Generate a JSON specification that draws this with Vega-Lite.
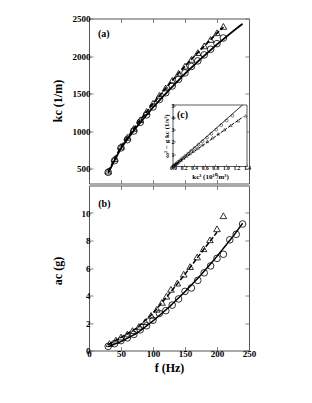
{
 "$schema": "https://vega.github.io/schema/vega-lite/v6.json",
 "background": "white",
 "padding": {"left": 50, "top": 13.5, "right": 5, "bottom": 5},
 "spacing": 0,
 "config": {
  "font": "Liberation Serif",
  "view": {"stroke": "#555", "strokeWidth": 1},
  "axis": {"grid": false, "domain": false, "tickSize": -4, "tickColor": "#666", "tickWidth": 0.8, "labelFont": "Liberation Serif", "labelFontSize": 9, "labelFontWeight": "bold", "labelColor": "#000", "labelPadding": 3, "labelFlush": false, "labelOverlap": false, "titleFont": "Liberation Serif", "titleFontSize": 12, "titleFontWeight": "bold", "titleColor": "#000"}
 },
 "datasets": {
  "kpts": [
   {"f":30,"k":450,"series":"circle"},{"f":40,"k":605,"series":"circle"},{"f":50,"k":775,"series":"circle"},{"f":60,"k":885,"series":"circle"},{"f":70,"k":1000,"series":"circle"},{"f":80,"k":1115,"series":"circle"},{"f":90,"k":1215,"series":"circle"},{"f":100,"k":1320,"series":"circle"},{"f":110,"k":1420,"series":"circle"},{"f":120,"k":1510,"series":"circle"},{"f":130,"k":1600,"series":"circle"},{"f":140,"k":1690,"series":"circle"},{"f":150,"k":1775,"series":"circle"},{"f":160,"k":1860,"series":"circle"},{"f":170,"k":1935,"series":"circle"},{"f":180,"k":2015,"series":"circle"},{"f":190,"k":2090,"series":"circle"},{"f":200,"k":2165,"series":"circle"},{"f":210,"k":2240,"series":"circle"},
   {"f":30,"k":465,"series":"triangle"},{"f":40,"k":630,"series":"triangle"},{"f":50,"k":795,"series":"triangle"},{"f":60,"k":915,"series":"triangle"},{"f":70,"k":1035,"series":"triangle"},{"f":80,"k":1150,"series":"triangle"},{"f":90,"k":1260,"series":"triangle"},{"f":100,"k":1370,"series":"triangle"},{"f":110,"k":1475,"series":"triangle"},{"f":120,"k":1575,"series":"triangle"},{"f":130,"k":1675,"series":"triangle"},{"f":140,"k":1770,"series":"triangle"},{"f":150,"k":1865,"series":"triangle"},{"f":160,"k":1955,"series":"triangle"},{"f":170,"k":2045,"series":"triangle"},{"f":180,"k":2135,"series":"triangle"},{"f":190,"k":2220,"series":"triangle"},{"f":200,"k":2310,"series":"triangle"},{"f":210,"k":2395,"series":"triangle"}
  ],
  "kfit": [
   {"f":30,"k":440,"series":"solid"},{"f":40,"k":610,"series":"solid"},{"f":50,"k":770,"series":"solid"},{"f":60,"k":890,"series":"solid"},{"f":75,"k":1060,"series":"solid"},{"f":100,"k":1315,"series":"solid"},{"f":125,"k":1545,"series":"solid"},{"f":150,"k":1765,"series":"solid"},{"f":175,"k":1965,"series":"solid"},{"f":200,"k":2155,"series":"solid"},{"f":225,"k":2330,"series":"solid"},{"f":240,"k":2430,"series":"solid"},
   {"f":30,"k":455,"series":"dashed"},{"f":40,"k":625,"series":"dashed"},{"f":50,"k":790,"series":"dashed"},{"f":60,"k":912,"series":"dashed"},{"f":75,"k":1090,"series":"dashed"},{"f":100,"k":1365,"series":"dashed"},{"f":125,"k":1625,"series":"dashed"},{"f":150,"k":1865,"series":"dashed"},{"f":175,"k":2090,"series":"dashed"},{"f":200,"k":2305,"series":"dashed"},{"f":210,"k":2385,"series":"dashed"}
  ],
  "apts": [
   {"f":30,"a":0.30,"series":"circle"},{"f":40,"a":0.50,"series":"circle"},{"f":50,"a":0.72,"series":"circle"},{"f":60,"a":0.92,"series":"circle"},{"f":70,"a":1.17,"series":"circle"},{"f":80,"a":1.50,"series":"circle"},{"f":90,"a":1.80,"series":"circle"},{"f":100,"a":2.20,"series":"circle"},{"f":110,"a":2.70,"series":"circle"},{"f":120,"a":2.90,"series":"circle"},{"f":130,"a":3.30,"series":"circle"},{"f":140,"a":3.75,"series":"circle"},{"f":150,"a":4.30,"series":"circle"},{"f":160,"a":4.55,"series":"circle"},{"f":170,"a":5.10,"series":"circle"},{"f":180,"a":5.65,"series":"circle"},{"f":190,"a":6.15,"series":"circle"},{"f":200,"a":6.70,"series":"circle"},{"f":210,"a":7.00,"series":"circle"},{"f":220,"a":8.05,"series":"circle"},{"f":230,"a":8.45,"series":"circle"},{"f":240,"a":9.20,"series":"circle"},
   {"f":32,"a":0.50,"series":"triangle"},{"f":42,"a":0.75,"series":"triangle"},{"f":50,"a":0.98,"series":"triangle"},{"f":60,"a":1.20,"series":"triangle"},{"f":68,"a":1.45,"series":"triangle"},{"f":78,"a":1.75,"series":"triangle"},{"f":88,"a":2.10,"series":"triangle"},{"f":97,"a":2.55,"series":"triangle"},{"f":106,"a":3.00,"series":"triangle"},{"f":114,"a":3.50,"series":"triangle"},{"f":121,"a":3.95,"series":"triangle"},{"f":128,"a":4.45,"series":"triangle"},{"f":138,"a":4.90,"series":"triangle"},{"f":148,"a":5.55,"series":"triangle"},{"f":158,"a":6.10,"series":"triangle"},{"f":169,"a":6.80,"series":"triangle"},{"f":179,"a":7.40,"series":"triangle"},{"f":189,"a":8.05,"series":"triangle"},{"f":200,"a":8.85,"series":"triangle"},{"f":210,"a":9.80,"series":"triangle"}
  ],
  "afit": [
   {"f":30,"a":0.28,"series":"solid"},{"f":50,"a":0.65,"series":"solid"},{"f":75,"a":1.26,"series":"solid"},{"f":100,"a":2.15,"series":"solid"},{"f":125,"a":3.15,"series":"solid"},{"f":150,"a":4.28,"series":"solid"},{"f":175,"a":5.50,"series":"solid"},{"f":200,"a":6.85,"series":"solid"},{"f":225,"a":8.30,"series":"solid"},{"f":240,"a":9.25,"series":"solid"},
   {"f":30,"a":0.42,"series":"dashed"},{"f":50,"a":0.95,"series":"dashed"},{"f":75,"a":1.65,"series":"dashed"},{"f":100,"a":2.70,"series":"dashed"},{"f":125,"a":4.10,"series":"dashed"},{"f":150,"a":5.55,"series":"dashed"},{"f":175,"a":7.10,"series":"dashed"},{"f":200,"a":8.60,"series":"dashed"}
  ],
  "inpts": [
   {"x":0.009,"y":0.045,"series":"circle"},{"x":0.022,"y":0.099,"series":"circle"},{"x":0.047,"y":0.171,"series":"circle"},{"x":0.069,"y":0.268,"series":"circle"},{"x":0.100,"y":0.386,"series":"circle"},{"x":0.139,"y":0.522,"series":"circle"},{"x":0.179,"y":0.680,"series":"circle"},{"x":0.230,"y":0.857,"series":"circle"},{"x":0.286,"y":1.055,"series":"circle"},{"x":0.344,"y":1.273,"series":"circle"},{"x":0.410,"y":1.511,"series":"circle"},{"x":0.483,"y":1.769,"series":"circle"},{"x":0.559,"y":2.047,"series":"circle"},{"x":0.643,"y":2.344,"series":"circle"},{"x":0.725,"y":2.662,"series":"circle"},{"x":0.818,"y":3.000,"series":"circle"},{"x":0.913,"y":3.358,"series":"circle"},{"x":1.015,"y":3.735,"series":"circle"},{"x":1.124,"y":4.133,"series":"circle"},
   {"x":0.010,"y":0.043,"series":"triangle"},{"x":0.025,"y":0.096,"series":"triangle"},{"x":0.050,"y":0.169,"series":"triangle"},{"x":0.077,"y":0.266,"series":"triangle"},{"x":0.111,"y":0.382,"series":"triangle"},{"x":0.152,"y":0.519,"series":"triangle"},{"x":0.200,"y":0.676,"series":"triangle"},{"x":0.257,"y":0.853,"series":"triangle"},{"x":0.321,"y":1.050,"series":"triangle"},{"x":0.391,"y":1.267,"series":"triangle"},{"x":0.470,"y":1.504,"series":"triangle"},{"x":0.555,"y":1.761,"series":"triangle"},{"x":0.649,"y":2.038,"series":"triangle"},{"x":0.747,"y":2.335,"series":"triangle"},{"x":0.855,"y":2.652,"series":"triangle"},{"x":0.973,"y":2.988,"series":"triangle"},{"x":1.094,"y":3.345,"series":"triangle"},{"x":1.233,"y":3.721,"series":"triangle"},{"x":1.374,"y":4.118,"series":"triangle"}
  ],
  "infit": [
   {"x":0,"y":0,"series":"solid"},{"x":1.315,"y":5.0,"series":"solid"},
   {"x":0,"y":0,"series":"dashed"},{"x":1.33,"y":4.05,"series":"dashed"}
  ]
 },
 "vconcat": [
  {
   "width": 160, "height": 165,
   "layer": [
    {
     "layer": [
      {
       "data": {"name": "kpts"},
       "mark": {"type": "point", "filled": false, "stroke": "#000", "strokeWidth": 0.8, "size": 44, "opacity": 1},
       "encoding": {
        "x": {"field": "f", "type": "quantitative", "scale": {"domain": [0, 250], "nice": false}, "axis": {"orient": "bottom", "values": [0,50,100,150,200,250], "labels": false, "title": null}},
        "y": {"field": "k", "type": "quantitative", "scale": {"domain": [300, 2500], "zero": false, "nice": false}, "axis": {"orient": "left", "values": [500,1000,1500,2000,2500], "format": "d", "title": "kc (1/m)", "titleX": -25, "titleY": 82}},
        "shape": {"field": "series", "type": "nominal", "scale": {"domain": ["circle", "triangle"], "range": ["circle", "triangle-up"]}, "legend": null}
       }
      },
      {
       "data": {"name": "kfit"},
       "mark": {"type": "line", "color": "#000", "strokeWidth": 1.8},
       "encoding": {
        "x": {"field": "f", "type": "quantitative", "axis": {"orient": "top", "values": [0,50,100,150,200,250], "labels": false, "title": null}},
        "y": {"field": "k", "type": "quantitative", "axis": {"orient": "right", "values": [500,1000,1500,2000,2500], "labels": false, "title": null}},
        "detail": {"field": "series", "type": "nominal"},
        "strokeDash": {"field": "series", "type": "nominal", "scale": {"domain": ["solid", "dashed"], "range": [[1, 0], [5, 2]]}, "legend": null}
       }
      },
      {
       "data": {"values": [{}]},
       "mark": {"type": "text", "text": "(a)", "font": "Liberation Serif", "fontSize": 10, "fontWeight": "bold", "color": "#000"},
       "encoding": {
        "x": {"datum": 23, "type": "quantitative", "axis": null},
        "y": {"datum": 2300, "type": "quantitative", "axis": null}
       }
      }
     ],
     "resolve": {"axis": {"x": "independent", "y": "independent"}}
    },
    {
     "layer": [
      {
       "data": {"values": [{}]},
       "mark": {"type": "rect", "fill": "white", "stroke": "#333", "strokeWidth": 0.8},
       "encoding": {
        "x": {"datum": 0, "type": "quantitative", "scale": {"domain": [0, 1.4], "range": [84, 158], "nice": false, "zero": false}, "axis": {"orient": "bottom", "offset": -17, "zindex": 2, "values": [0,0.2,0.4,0.6,0.8,1.0,1.2,1.4], "format": ".1f", "labelOverlap": false, "labelBound": false, "labelFontSize": 5.5, "labelPadding": 1.5, "tickSize": -2.5, "title": "kc³ (10¹⁰/m³)", "titleFontSize": 7, "titlePadding": 1}},
        "x2": {"datum": 1.4},
        "y": {"datum": 0, "type": "quantitative", "scale": {"domain": [0, 5], "range": [148, 86.5], "nice": false}, "axis": {"orient": "left", "offset": -84, "zindex": 2, "values": [0,1,2,3,4,5], "labelOverlap": false, "labelBound": false, "labelFontSize": 6, "labelPadding": 1.5, "tickSize": -2.5, "title": "ω² − g kc (1/s²)", "titleFontSize": 7, "titlePadding": 2}},
        "y2": {"datum": 5}
       }
      },
      {
       "data": {"name": "inpts"},
       "mark": {"type": "point", "filled": false, "stroke": "#000", "strokeWidth": 0.5, "size": 8, "opacity": 1},
       "encoding": {
        "x": {"field": "x", "type": "quantitative", "axis": {"orient": "bottom", "offset": -17, "zindex": 2, "values": [0,0.2,0.4,0.6,0.8,1.0,1.2,1.4], "format": ".1f", "labelOverlap": false, "labelBound": false, "labelFontSize": 5.5, "labelPadding": 1.5, "tickSize": -2.5, "title": "kc³ (10¹⁰/m³)", "titleFontSize": 7, "titlePadding": 1}},
        "y": {"field": "y", "type": "quantitative", "axis": {"orient": "left", "offset": -84, "zindex": 2, "values": [0,1,2,3,4,5], "labelOverlap": false, "labelBound": false, "labelFontSize": 6, "labelPadding": 1.5, "tickSize": -2.5, "title": "ω² − g kc (1/s²)", "titleFontSize": 7, "titlePadding": 2}},
        "shape": {"field": "series", "type": "nominal", "scale": {"domain": ["circle", "triangle"], "range": ["circle", "triangle-up"]}, "legend": null}
       }
      },
      {
       "data": {"name": "infit"},
       "mark": {"type": "line", "color": "#000", "strokeWidth": 1},
       "encoding": {
        "x": {"field": "x", "type": "quantitative", "axis": {"orient": "bottom", "offset": -17, "zindex": 2, "values": [0,0.2,0.4,0.6,0.8,1.0,1.2,1.4], "format": ".1f", "labelOverlap": false, "labelBound": false, "labelFontSize": 5.5, "labelPadding": 1.5, "tickSize": -2.5, "title": "kc³ (10¹⁰/m³)", "titleFontSize": 7, "titlePadding": 1}},
        "y": {"field": "y", "type": "quantitative", "axis": {"orient": "left", "offset": -84, "zindex": 2, "values": [0,1,2,3,4,5], "labelOverlap": false, "labelBound": false, "labelFontSize": 6, "labelPadding": 1.5, "tickSize": -2.5, "title": "ω² − g kc (1/s²)", "titleFontSize": 7, "titlePadding": 2}},
        "detail": {"field": "series", "type": "nominal"},
        "strokeDash": {"field": "series", "type": "nominal", "scale": {"domain": ["solid", "dashed"], "range": [[1, 0], [3, 1.5]]}, "legend": null}
       }
      },
      {
       "data": {"values": [{}]},
       "mark": {"type": "text", "text": "(c)", "font": "Liberation Serif", "fontSize": 10, "fontWeight": "bold", "color": "#000"},
       "encoding": {
        "x": {"datum": 0.18, "type": "quantitative", "axis": {"orient": "bottom", "offset": -17, "zindex": 2, "values": [0,0.2,0.4,0.6,0.8,1.0,1.2,1.4], "format": ".1f", "labelOverlap": false, "labelBound": false, "labelFontSize": 5.5, "labelPadding": 1.5, "tickSize": -2.5, "title": "kc³ (10¹⁰/m³)", "titleFontSize": 7, "titlePadding": 1}},
        "y": {"datum": 4.2, "type": "quantitative", "axis": {"orient": "left", "offset": -84, "zindex": 2, "values": [0,1,2,3,4,5], "labelOverlap": false, "labelBound": false, "labelFontSize": 6, "labelPadding": 1.5, "tickSize": -2.5, "title": "ω² − g kc (1/s²)", "titleFontSize": 7, "titlePadding": 2}}
       }
      }
     ]
    }
   ],
   "resolve": {"scale": {"x": "independent", "y": "independent", "shape": "independent", "strokeDash": "independent"}}
  },
  {
   "width": 160, "height": 165,
   "layer": [
    {
     "data": {"name": "apts"},
     "mark": {"type": "point", "filled": false, "stroke": "#000", "strokeWidth": 0.8, "size": 44, "opacity": 1},
     "encoding": {
      "x": {"field": "f", "type": "quantitative", "scale": {"domain": [0, 250], "nice": false}, "axis": {"orient": "bottom", "values": [0,50,100,150,200,250], "title": "f (Hz)", "titlePadding": 4}},
      "y": {"field": "a", "type": "quantitative", "scale": {"domain": [0, 12], "nice": false}, "axis": {"orient": "left", "values": [0,2,4,6,8,10], "title": "ac (g)", "titleX": -25, "titleY": 85}},
      "shape": {"field": "series", "type": "nominal", "scale": {"domain": ["circle", "triangle"], "range": ["circle", "triangle-up"]}, "legend": null}
     }
    },
    {
     "data": {"name": "afit"},
     "mark": {"type": "line", "color": "#000", "strokeWidth": 1.5},
     "encoding": {
      "x": {"field": "f", "type": "quantitative", "axis": {"orient": "top", "values": [0,50,100,150,200,250], "labels": false, "title": null}},
      "y": {"field": "a", "type": "quantitative", "axis": {"orient": "right", "values": [0,2,4,6,8,10], "labels": false, "title": null}},
      "detail": {"field": "series", "type": "nominal"},
      "strokeDash": {"field": "series", "type": "nominal", "scale": {"domain": ["solid", "dashed"], "range": [[1, 0], [5, 2]]}, "legend": null}
     }
    },
    {
     "data": {"values": [{}]},
     "mark": {"type": "text", "text": "(b)", "font": "Liberation Serif", "fontSize": 10, "fontWeight": "bold", "color": "#000"},
     "encoding": {
      "x": {"datum": 24, "type": "quantitative", "axis": null},
      "y": {"datum": 10.65, "type": "quantitative", "axis": null}
     }
    }
   ],
   "resolve": {"axis": {"x": "independent", "y": "independent"}}
  }
 ],
 "resolve": {"scale": {"x": "independent", "y": "independent"}}
}
